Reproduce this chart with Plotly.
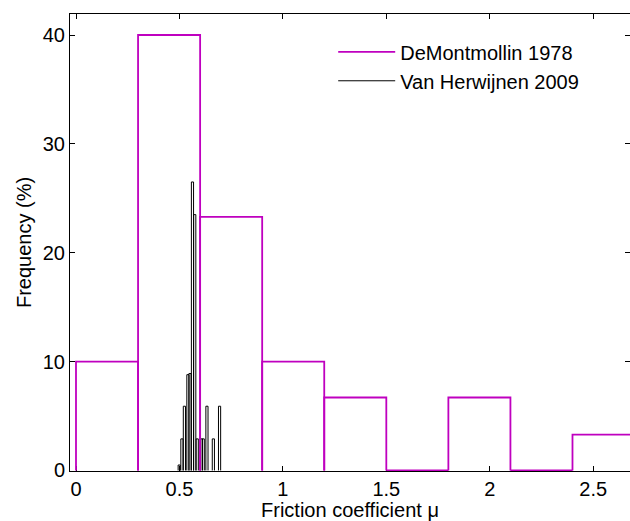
import plotly.graph_objects as go

# DeMontmollin 1978 histogram (bin edges and frequency in %)
demont_edges = [0.0, 0.3, 0.6, 0.9, 1.2, 1.5, 1.8, 2.1, 2.4, 2.7]
demont_freq = [10.0, 40.0, 23.3, 10.0, 6.7, 0.0, 6.7, 0.0, 3.3]

# Van Herwijnen 2009 histogram (bin centres and frequency in %)
vh_centers = [0.499, 0.512, 0.524, 0.541, 0.551, 0.563, 0.574, 0.586,
              0.606, 0.615, 0.633, 0.664, 0.694]
vh_freq = [0.5, 2.9, 5.9, 8.8, 8.9, 26.5, 23.5, 2.9, 2.9, 2.9, 5.9, 2.9, 5.9]
vh_width = 0.0105

x_ticks = [0, 0.5, 1, 1.5, 2, 2.5]
x_ticklabels = ["0", "0.5", "1", "1.5", "2", "2.5"]
y_ticks = [0, 10, 20, 30, 40]

MAGENTA = "#BF00BF"
FONT = "Liberation Sans, Arial, sans-serif"


def outline(lefts, rights, heights):
    xs, ys = [], []
    for l, r, h in zip(lefts, rights, heights):
        xs += [l, l, r, r, None]
        ys += [0, h, h, 0, None]
    return xs, ys


vh_x, vh_y = outline([c - vh_width / 2 for c in vh_centers],
                     [c + vh_width / 2 for c in vh_centers], vh_freq)
dm_x, dm_y = outline(demont_edges[:-1], demont_edges[1:], demont_freq)

fig = go.Figure()
fig.add_trace(go.Scatter(x=vh_x, y=vh_y, mode="lines", name="Van Herwijnen 2009",
                         line=dict(color="black", width=1), legendrank=2,
                         hoverinfo="skip"))
fig.add_trace(go.Scatter(x=dm_x, y=dm_y, mode="lines", name="DeMontmollin 1978",
                         line=dict(color=MAGENTA, width=1.8), legendrank=1,
                         hoverinfo="skip"))

axis_common = dict(showline=True, linecolor="black", linewidth=1, mirror="ticks",
                   ticks="inside", ticklen=5, tickcolor="black", tickwidth=1,
                   showgrid=False, zeroline=False, layer="below traces",
                   tickfont=dict(family=FONT, size=20, color="black"))

fig.update_layout(
    width=630, height=521,
    margin=dict(l=70, r=0, t=14, b=50),
    paper_bgcolor="white", plot_bgcolor="white",
    font=dict(family=FONT, size=20, color="black"),
    showlegend=True,
    legend=dict(x=0.47, y=0.96, xanchor="left", yanchor="top",
                bgcolor="rgba(0,0,0,0)", borderwidth=0,
                font=dict(family=FONT, size=20, color="black"),
                itemwidth=57, tracegroupgap=0),
    xaxis=dict(range=[-0.029, 2.678], tickvals=x_ticks, ticktext=x_ticklabels,
               title=dict(text="Friction coefficient \u03bc", standoff=4,
                          font=dict(family=FONT, size=20, color="black")),
               **axis_common),
    yaxis=dict(range=[-0.05, 41.93], tickvals=y_ticks,
               title=dict(text="Frequency (%)", standoff=5,
                          font=dict(family=FONT, size=20, color="black")),
               **axis_common),
)

fig.write_html("out.html")
